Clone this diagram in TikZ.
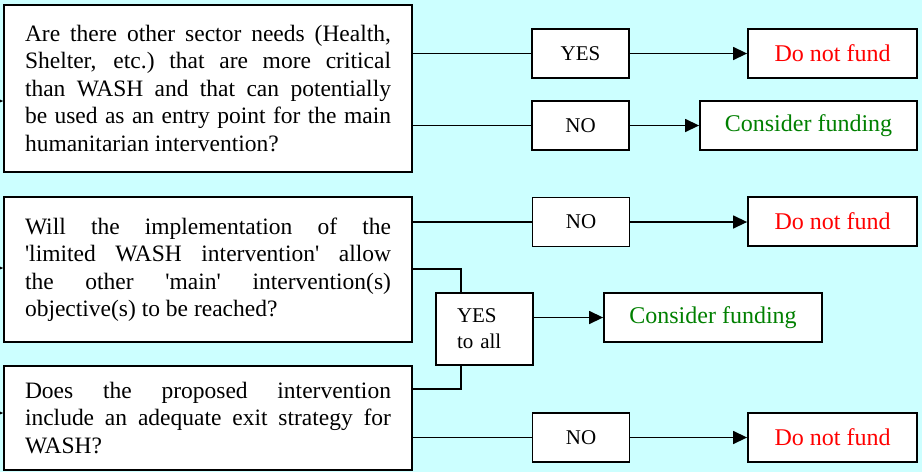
\documentclass[tikz,border=0pt]{standalone}
\usepackage{fontspec}
\setmainfont{Liberation Serif}
\usetikzlibrary{arrows.meta,calc}
\definecolor{washBg}{RGB}{204,255,255}
\definecolor{washRed}{RGB}{255,0,0}
\definecolor{washGreen}{RGB}{0,128,0}

\begin{document}
\begin{tikzpicture}[x=1pt,y=-1pt,
    question/.style={draw, line width=1.8pt, fill=white, text width=366pt, inner xsep=21pt, inner ysep=0pt, align=justify, font=\fontsize{23.5}{27.5}\selectfont},
    answer/.style={draw, line width=1.8pt, fill=white, minimum width=97pt, minimum height=49pt, inner sep=0pt, font=\fontsize{21}{26}\selectfont},
    outcome/.style={draw, line width=1.8pt, fill=white, minimum height=49pt, inner sep=0pt, font=\fontsize{24}{28}\selectfont},
    link/.style={line width=1.4pt},
    flow/.style={line width=1.4pt, -{Triangle[length=14pt,width=13pt]}}]
    \useasboundingbox (0,0) rectangle (922,472);
    \clip (0,0) rectangle (922,472);
    \fill[washBg] (0,0) rectangle (922,472);

    % questions
    \node[question, minimum height=167pt] (qsector) at (208,88.5) {Are there other sector needs (Health,\linebreak Shelter, etc.)\ that are more critical\linebreak than WASH and that can potentially\linebreak be used as an entry point for the main\linebreak humanitarian intervention?};
    \node[question, minimum height=145pt] (qlimited) at (208,269.5) {Will the implementation of the\linebreak \textquotesingle limited WASH intervention\textquotesingle\ allow\linebreak the other \textquotesingle main\textquotesingle\ intervention(s)\linebreak objective(s) to be reached?};
    \node[question, minimum height=104pt] (qexit) at (208,418) {Does the proposed intervention\linebreak include an adequate exit strategy for\linebreak WASH?};

    % answers
    \node[answer] (ansyes1) at (580.5,53.5) {YES};
    \node[answer] (ansno1) at (580.5,125.5) {NO};
    \node[answer] (ansno2) at (581,222) {NO};
    \node[answer, minimum height=72pt, text width=55pt, inner xsep=21pt, align=left] (ansyesall) at (484.5,329) {YES\\to all};
    \node[answer] (ansno3) at (581,437.5) {NO};

    % outcomes
    \node[outcome, minimum width=169pt, text=washRed] (nofund1) at (832.5,53.5) {Do not fund};
    \node[outcome, minimum width=217pt, text=washGreen] (cons1) at (808.5,125.5) {Consider funding};
    \node[outcome, minimum width=169pt, text=washRed] (nofund2) at (832.5,221.5) {Do not fund};
    \node[outcome, minimum width=218pt, text=washGreen] (cons2) at (713,317.5) {Consider funding};
    \node[outcome, minimum width=169pt, text=washRed] (nofund3) at (832.5,437.5) {Do not fund};

    % incoming arrows from the left
    \coordinate (in1) at (-30,101);
    \coordinate (in2) at (-30,268);
    \coordinate (in3) at (-30,413);
    \draw[flow] (in1) -- (in1 -| qsector.west);
    \draw[flow] (in2) -- (in2 -| qlimited.west);
    \draw[flow] (in3) -- (in3 -| qexit.west);

    % branches
    \draw[link] (qsector.east |- ansyes1.west) -- (ansyes1.west);
    \draw[flow] (ansyes1.east) -- (nofund1.west);
    \draw[link] (qsector.east |- ansno1.west) -- (ansno1.west);
    \draw[flow] (ansno1.east) -- (cons1.west);

    \draw[link] (qlimited.east |- ansno2.west) -- (ansno2.west);
    \draw[flow] (ansno2.east) -- (ansno2.east -| nofund2.west);

    \coordinate (tapup) at (461,269);
    \coordinate (tapdown) at (461,389);
    \draw[link] (qlimited.east |- tapup) -- (tapup) -- (tapup |- ansyesall.north);
    \draw[link] (qexit.east |- tapdown) -- (tapdown) -- (tapdown |- ansyesall.south);
    \draw[flow] (ansyesall.east |- cons2.west) -- (cons2.west);

    \draw[link] (qexit.east |- ansno3.west) -- (ansno3.west);
    \draw[flow] (ansno3.east) -- (nofund3.west);
\end{tikzpicture}
\end{document}
